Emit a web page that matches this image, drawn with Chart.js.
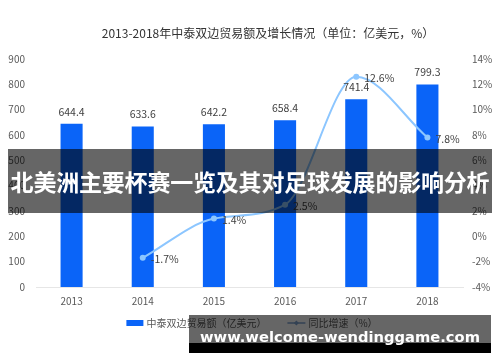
<!DOCTYPE html>
<html><head><meta charset="utf-8">
<script src="https://cdn.jsdelivr.net/npm/chart.js@4/dist/chart.umd.min.js"></script>
<style>
html,body{margin:0;padding:0;background:#fff;}
#wrap{position:relative;width:500px;height:362px;overflow:hidden;}
#c{position:absolute;left:0;top:0;}
#banner{position:absolute;left:8px;top:149px;width:484px;height:64px;background:rgba(0,0,0,0.6);color:#fff;font-family:"Noto Sans CJK SC";font-weight:bold;font-size:23px;line-height:64px;text-align:center;white-space:nowrap;letter-spacing:-0.2px;}
#wm{position:absolute;left:189px;top:315px;width:302px;height:38px;background:linear-gradient(rgba(0,0,0,0.6) 0px,rgba(0,0,0,0.6) 28px,#000 28px,#000 38px);}
#wm span{position:absolute;left:0;width:302px;top:13px;text-align:center;color:#fff;font-family:"DejaVu Sans";font-weight:bold;font-size:14.7px;line-height:18px;white-space:nowrap;}
</style>
</head><body>
<div id="wrap">
<canvas id="c" width="500" height="362"></canvas>
<div id="banner">北美洲主要杯赛一览及其对足球发展的影响分析</div>
<div id="wm"><span>www.welcome-wendinggame.com</span></div>
</div>
<script>
const titleText = '2013-2018年中泰双边贸易额及增长情况（单位：亿美元，%）';
const years = ['2013','2014','2015','2016','2017','2018'];
const tradeValues = [644.4, 633.6, 642.2, 658.4, 741.4, 799.3];
const growthValues = [null, -1.7, 1.4, 2.5, 12.6, 7.8];
const barLabel = '中泰双边贸易额（亿美元）';
const lineLabel = '同比增速（%）';

const FONT = '"Noto Sans CJK SC", "Liberation Sans", sans-serif';

const labelPlugin = {
  id: 'valueLabels',
  afterDatasetsDraw(chart) {
    const ctx = chart.ctx;
    ctx.save();
    ctx.fillStyle = '#404040';
    ctx.font = '10.5px ' + FONT;
    chart.data.datasets.forEach((ds, di) => {
      const meta = chart.getDatasetMeta(di);
      meta.data.forEach((el, i) => {
        const v = ds.data[i];
        if (v === null || v === undefined) return;
        ctx.textBaseline = 'middle';
        if (ds.type === 'line') {
          ctx.textAlign = 'left';
          ctx.fillText(v.toFixed(1) + '%', el.x + 8, el.y + 1);
        } else {
          ctx.textAlign = 'center';
          ctx.fillText(v.toFixed(1), el.x, el.y - 12);
        }
      });
    });
    ctx.restore();
  },
  afterDraw(chart) {
    const ctx = chart.ctx;
    ctx.save();
    // title
    ctx.fillStyle = '#333';
    ctx.font = '12px ' + FONT;
    ctx.textAlign = 'center';
    ctx.textBaseline = 'middle';
    ctx.fillText(titleText, 268, 33);
    // legend
    const ds0 = chart.data.datasets[0], ds1 = chart.data.datasets[1];
    ctx.font = '10px ' + FONT;
    const w1 = ctx.measureText(ds0.label).width;
    const w2 = ctx.measureText(ds1.label).width;
    const total = 17 + 3 + w1 + 21 + 18 + 3 + w2;
    let x = 252 - total / 2;
    const y = 323;
    ctx.fillStyle = ds0.backgroundColor;
    ctx.fillRect(x, y - 3, 17, 6);
    x += 20;
    ctx.fillStyle = '#595959';
    ctx.textAlign = 'left';
    ctx.fillText(ds0.label, x, y);
    x += w1 + 21;
    ctx.strokeStyle = '#7fa3cf';
    ctx.lineWidth = 1.5;
    ctx.beginPath(); ctx.moveTo(x, y); ctx.lineTo(x + 18, y); ctx.stroke();
    ctx.fillStyle = '#7fa3cf';
    ctx.beginPath(); ctx.moveTo(x + 9, y - 2.5); ctx.lineTo(x + 11.5, y); ctx.lineTo(x + 9, y + 2.5); ctx.lineTo(x + 6.5, y); ctx.closePath(); ctx.fill();
    x += 21;
    ctx.fillStyle = '#595959';
    ctx.fillText(ds1.label, x, y);
    ctx.restore();
  }
};

new Chart(document.getElementById('c'), {
  type: 'bar',
  data: {
    labels: years,
    datasets: [
      {
        type: 'bar',
        label: barLabel,
        data: tradeValues,
        backgroundColor: '#0a64f8',
        borderWidth: 0,
        barPercentage: 0.31,
        categoryPercentage: 1,
        yAxisID: 'y',
        order: 2
      },
      {
        type: 'line',
        label: lineLabel,
        data: growthValues,
        borderColor: '#8cc6ff',
        backgroundColor: '#8cc6ff',
        borderWidth: 2,
        pointRadius: 3,
        pointBackgroundColor: '#8cc6ff',
        pointBorderWidth: 0,
        cubicInterpolationMode: 'monotone',
        spanGaps: false,
        yAxisID: 'y1',
        order: 1
      }
    ]
  },
  options: {
    responsive: false,
    animation: false,
    layout: { padding: { top: 59, left: 8, right: 7, bottom: 47 } },
    plugins: {
      tooltip: { enabled: false },
      title: { display: false },
      legend: { display: false }
    },
    scales: {
      x: {
        grid: { display: false, drawTicks: false },
        border: { display: true, color: '#e6e6e6', width: 1 },
        ticks: { color: '#595959', font: { family: FONT, size: 10 }, padding: 8 }
      },
      y: {
        position: 'left',
        min: 0, max: 900,
        afterFit: s => { s.width = 28; },
        grid: { display: false, drawTicks: false },
        border: { display: false },
        ticks: { stepSize: 100, color: '#595959', font: { family: FONT, size: 10 }, padding: 11 }
      },
      y1: {
        position: 'right',
        min: -4, max: 14,
        afterFit: s => { s.width = 30; },
        grid: { display: false, drawTicks: false },
        border: { display: false },
        ticks: { stepSize: 2, color: '#595959', font: { family: FONT, size: 10 }, padding: 9,
          callback: v => v + '%' }
      }
    }
  },
  plugins: [labelPlugin]
});
</script>
</body></html>
